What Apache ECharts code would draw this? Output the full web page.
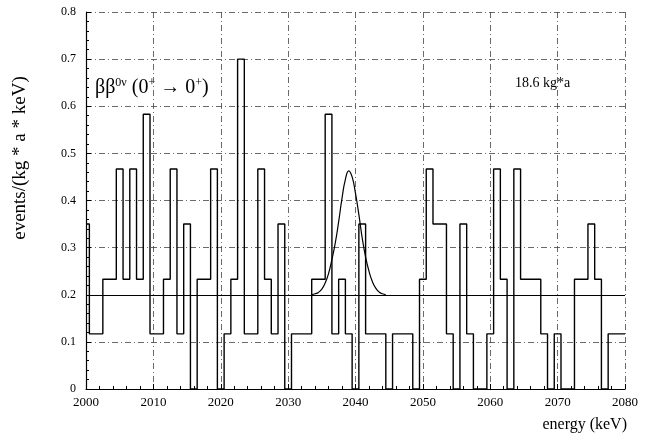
<!DOCTYPE html>
<html>
<head>
<meta charset="utf-8">
<script src="https://cdn.jsdelivr.net/npm/echarts@6/dist/echarts.min.js"></script>
<style>
html,body{margin:0;padding:0;background:#fff;}
#c{width:645px;height:444px;}
</style>
</head>
<body>
<div id="c"></div>
<script>
// 1-keV bins, centred on integer energies, first bin centre:
const binStart = 2000;
// events/(kg*a*keV) in each bin, 2000 ... 2080 keV
const binValues = [
  0.35, 0.117, 0.117, 0.233, 0.233, 0.467, 0.233, 0.467, 0.233, 0.583, // 2000-2009
  0.117, 0.117, 0.233, 0.467, 0.117, 0.35, 0, 0.233, 0.233, 0.467,    // 2010-2019
  0, 0.117, 0.233, 0.7, 0.117, 0.117, 0.467, 0.233, 0.117, 0.35,      // 2020-2029
  0, 0.117, 0.117, 0.117, 0.233, 0.233, 0.583, 0.117, 0.233, 0.117,   // 2030-2039
  0, 0.35, 0.117, 0.117, 0.117, 0, 0.117, 0.117, 0.117, 0,            // 2040-2049
  0.233, 0.467, 0.35, 0.35, 0.117, 0, 0.35, 0.117, 0, 0,              // 2050-2059
  0.117, 0.467, 0.233, 0, 0.467, 0.233, 0.233, 0.233, 0.117, 0,       // 2060-2069
  0.117, 0, 0, 0.233, 0.233, 0.35, 0.233, 0, 0.117, 0.117,            // 2070-2079
  0.117                                                               // 2080
];
// expected 0nbb peak curve
const peakEnergy = [2033.5, 2034, 2034.5, 2035, 2035.5, 2036, 2036.5, 2037, 2037.5, 2038, 2038.5,
  2039, 2039.5, 2040, 2040.5, 2041, 2041.5, 2042, 2042.5, 2043, 2043.5, 2044, 2044.5];
const peakValue = [0.200, 0.202, 0.205, 0.212, 0.225, 0.245, 0.275, 0.31, 0.355, 0.405, 0.445,
  0.463, 0.45, 0.415, 0.37, 0.32, 0.28, 0.25, 0.228, 0.214, 0.206, 0.202, 0.200];
const backgroundLevel = 0.2;
const xMin = 2000, xMax = 2080, xStep = 10;
const yMin = 0, yMax = 0.8, yStep = 0.1;

const histData = binValues.map((v, i) => [binStart + i, v]);
const peakData = peakEnergy.map((e, i) => [e, peakValue[i]]);

const serif = '"Liberation Serif", "DejaVu Serif", serif';
const gridLine = {show: true, lineStyle: {color: '#444', width: 0.8, type: [6, 3, 1, 3]}};

const chart = echarts.init(document.getElementById('c'));
chart.setOption({
  backgroundColor: '#fff',
  animation: false,
  grid: {left: 86, right: 20, top: 12, bottom: 55},
  xAxis: {
    type: 'value', min: xMin, max: xMax, interval: xStep,
    axisLine: {lineStyle: {color: '#000', width: 1.2}},
    axisTick: {inside: true, length: 5, lineStyle: {color: '#000'}},
    minorTick: {show: true, splitNumber: 5, length: 3, lineStyle: {color: '#000'}},
    axisLabel: {color: '#000', fontFamily: serif, fontSize: 13, margin: 7,
      formatter: v => String(v)},
    splitLine: gridLine
  },
  yAxis: {
    type: 'value', min: yMin, max: yMax, interval: yStep,
    axisLine: {show: true, lineStyle: {color: '#000', width: 1.2}},
    axisTick: {show: true, inside: true, length: 5, lineStyle: {color: '#000'}},
    minorTick: {show: true, splitNumber: 5, length: 3, lineStyle: {color: '#000'}},
    axisLabel: {color: '#000', fontFamily: serif, fontSize: 12, margin: 10,
      formatter: v => (v === 0 ? '0' : v.toFixed(1))},
    splitLine: gridLine
  },
  series: [
    {
      type: 'line', step: 'middle', data: histData, symbol: 'none', clip: true,
      lineStyle: {color: '#000', width: 1.4},
      markLine: {
        silent: true, symbol: 'none', label: {show: false}, animation: false,
        lineStyle: {color: '#000', type: 'solid', width: 1.2},
        data: [{yAxis: backgroundLevel}]
      }
    },
    {
      type: 'line', smooth: true, data: peakData, symbol: 'none',
      lineStyle: {color: '#000', width: 1.2}
    }
  ],
  graphic: [
    {type: 'text', x: 20, y: 158, rotation: Math.PI / 2,
      style: {text: 'events/(kg * a * keV)', font: '19px ' + serif, fill: '#000', align: 'center', verticalAlign: 'middle'}},
    {type: 'text', x: 627, y: 425,
      style: {text: 'energy (keV)', font: '16px ' + serif, fill: '#000', align: 'right', verticalAlign: 'middle'}},
    {type: 'text', x: 95, y: 88,
      style: {text: 'ββ{s|0ν} (0{s|+} → 0{s|+})', font: '20px ' + serif, fill: '#000', verticalAlign: 'middle',
        rich: {s: {fontSize: 12, fontFamily: serif, fill: '#000', verticalAlign: 'top', lineHeight: 22}}}},
    {type: 'text', x: 515, y: 83,
      style: {text: '18.6 kg*a', font: '14px ' + serif, fill: '#000', verticalAlign: 'middle'}}
  ]
});
</script>
</body>
</html>
